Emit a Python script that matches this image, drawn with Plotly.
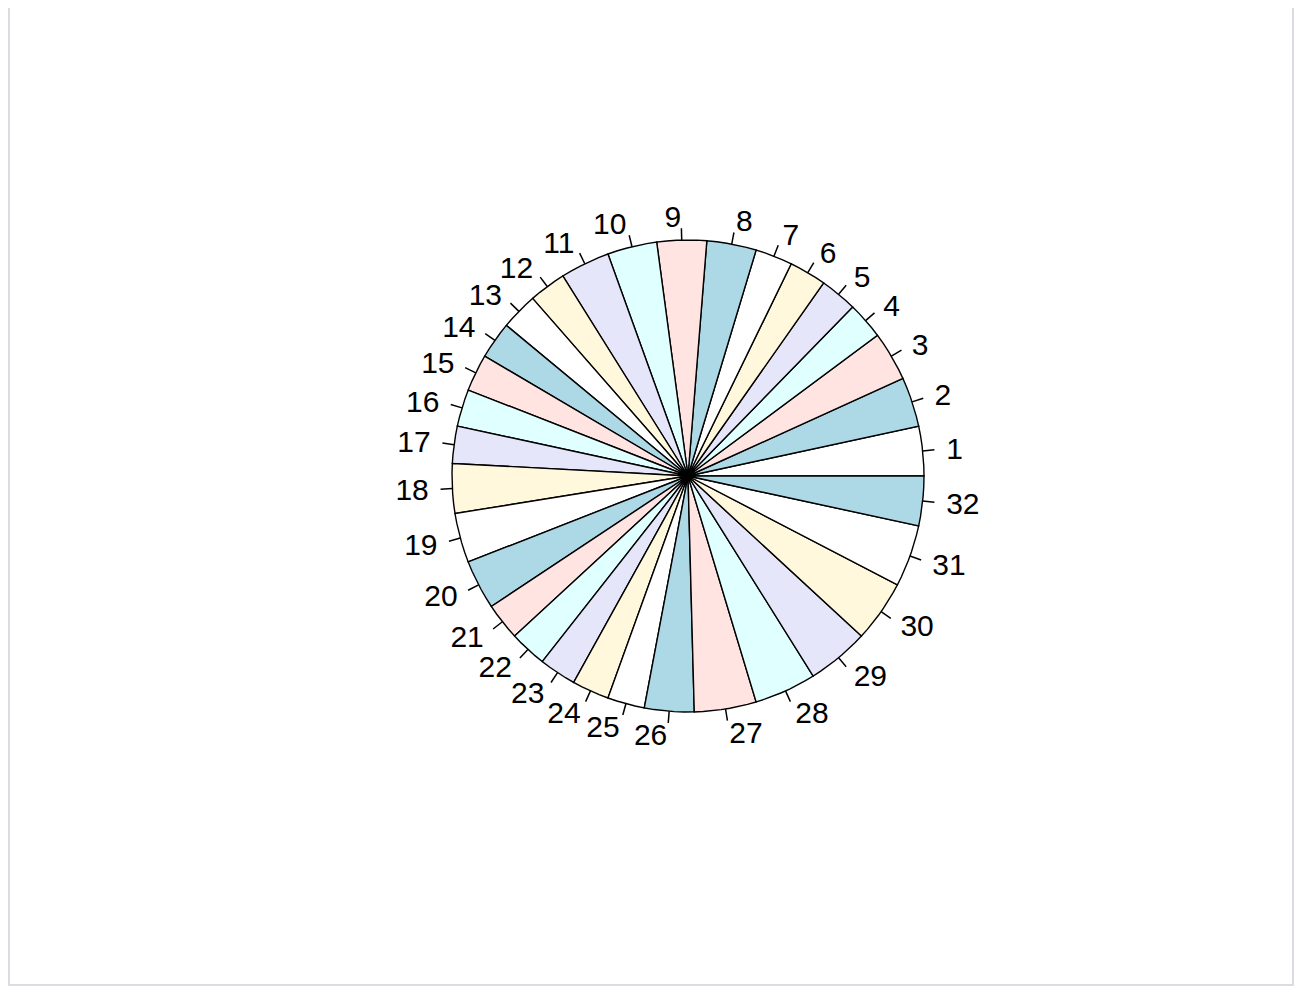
import numpy as np
import plotly.graph_objects as go

# Data: mtcars$gear, one slice per car (labels 1..32)
labels = [str(i) for i in range(1, 33)]
gear = [4, 4, 4, 3, 3, 3, 3, 4, 4, 4, 4, 3, 3, 3, 3, 3, 3, 4, 4, 4,
        3, 3, 3, 3, 3, 4, 5, 5, 5, 5, 5, 4]
palette = ["white", "lightblue", "mistyrose", "lightcyan", "lavender", "cornsilk"]

# Layout geometry (pixels, inside the plot div which sits 8px into the page)
W, H = 1286, 978
cx, cy = 680, 468
rpx = 236
xr = [-cx / rpx, (W - cx) / rpx]
yr = [-(H - cy) / rpx, cy / rpx]
text_dy = -3 / rpx  # small baseline correction for label centring

vals = np.array(gear, dtype=float)
cum = np.concatenate([[0], np.cumsum(vals)]) / vals.sum()

fig = go.Figure()

for i in range(len(vals)):
    a0, a1 = 2 * np.pi * cum[i], 2 * np.pi * cum[i + 1]
    n = max(2, int(np.floor(200 * (cum[i + 1] - cum[i]))))
    t = np.linspace(a0, a1, n)
    xs = np.concatenate([[0], np.cos(t), [0]])
    ys = np.concatenate([[0], np.sin(t), [0]])
    fig.add_trace(go.Scatter(x=xs, y=ys, mode="lines", fill="toself",
                             fillcolor=palette[i % len(palette)],
                             line=dict(color="black", width=1.4),
                             hoverinfo="skip", showlegend=False))

mid = np.pi * (cum[:-1] + cum[1:])
tx, ty = [], []
for m in mid:
    tx += [np.cos(m), 1.05 * np.cos(m), None]
    ty += [np.sin(m), 1.05 * np.sin(m), None]
fig.add_trace(go.Scatter(x=tx, y=ty, mode="lines",
                         line=dict(color="black", width=1.5),
                         hoverinfo="skip", showlegend=False))

right = np.cos(mid) >= 0
for side, pos in [(right, "middle right"), (~right, "middle left")]:
    fig.add_trace(go.Scatter(
        x=1.1 * np.cos(mid[side]), y=1.1 * np.sin(mid[side]) + text_dy,
        mode="text", text=[labels[k] for k in np.where(side)[0]],
        textposition=pos,
        textfont=dict(family="Liberation Sans, Arial", size=30, color="black"),
        hoverinfo="skip", showlegend=False))

fig.add_shape(type="rect", xref="paper", yref="paper",
              x0=0.0008, x1=0.9992, y0=0.001, y1=1.05,
              line=dict(color="#d9dce1", width=2), fillcolor="white",
              layer="below")

fig.update_layout(
    margin=dict(l=0, r=0, t=0, b=0),
    paper_bgcolor="white",
    plot_bgcolor="rgba(0,0,0,0)",
    xaxis=dict(range=xr, visible=False, fixedrange=True),
    yaxis=dict(range=yr, visible=False, fixedrange=True),
    showlegend=False,
)

fig.write_html("out.html")
